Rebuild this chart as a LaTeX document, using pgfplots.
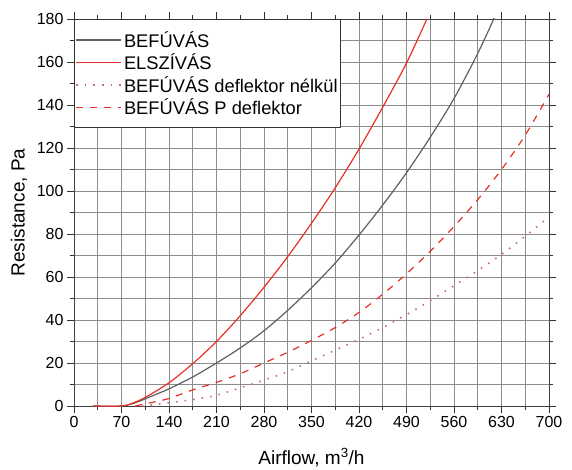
\documentclass[border=0pt]{standalone}
\usepackage{pgfplots}
\pgfplotsset{compat=1.18}
\usepackage{fontspec}
\setmainfont{Liberation Sans}
\definecolor{cred}{RGB}{232,48,40}
\definecolor{cgray}{RGB}{95,95,95}
\definecolor{cdot}{RGB}{200,110,110}
\definecolor{gridc}{RGB}{140,140,140}
\begin{document}
\begin{tikzpicture}
\begin{axis}[
  scale only axis,
  width=475pt, height=387pt,
  xmin=0, xmax=700, ymin=0, ymax=180,
  xtick={0,70,...,700}, ytick={0,20,...,180},
  minor xtick={35,105,...,665}, minor ytick={10,30,...,170},
  grid=both,
  major grid style={gridc, line width=0.8pt},
  minor grid style={gridc, line width=0.8pt},
  axis line style={black!75, line width=0.9pt},
  tick align=outside,
  major tick length=7pt, minor tick length=4pt,
  tick style={black!80, line width=0.8pt},
  /pgf/number format/assume math mode=true,
  ticklabel style={font=\fontsize{16}{16}\selectfont},
  xlabel={Airflow, m\textsuperscript{3}/h},
  ylabel={Resistance, Pa},
  xlabel style={at={(axis description cs:0.5,-0.150)}, anchor=base, font=\fontsize{19}{19}\selectfont},
  ylabel style={at={(axis description cs:-0.116,0.5)}, anchor=center, font=\fontsize{19}{19}\selectfont},
  legend style={at={(0,1)}, anchor=north west, draw=black!80, line width=0.8pt, fill=white,
    font=\fontsize{18.3}{22}\selectfont, inner xsep=1pt, inner ysep=10pt, row sep=1pt},
  legend cell align=left,
  legend image code/.code={\draw[#1] (0pt,0pt) -- (45pt,0pt);},
]
\addplot[cgray, line width=1.2pt, smooth] coordinates {
(28,0) (70,0) (90,1.5) (110,4) (140,8) (175,13.5) (210,20) (245,27) (280,35) (315,44.5)
(350,55) (385,66.5) (420,79.5) (455,93.5) (490,108.5) (525,125) (560,143) (595,164) (620,181)};
\addlegendentry{BEFÚVÁS}
\addplot[cred, line width=1.2pt, smooth] coordinates {
(28,0) (70,0) (85,1.2) (105,4) (140,10.8) (175,19.7) (210,30) (245,42) (280,55.2) (315,69.5)
(350,85) (385,101.5) (420,119.5) (455,139) (490,159.5) (520,180)};
\addlegendentry{ELSZÍVÁS}
\addplot[cdot, line width=1.6pt, dash pattern=on 1.6pt off 7pt, smooth] coordinates {
(100,0) (140,1.5) (175,3) (210,5) (245,8.5) (280,12) (315,16) (350,21) (385,26) (420,31)
(455,36.5) (490,42.5) (525,49) (560,56) (595,63) (630,70.5) (665,79) (700,88)};
\addlegendentry{BEFÚVÁS deflektor nélkül}
\addplot[cred, line width=1.2pt, dash pattern=on 7pt off 7pt, smooth] coordinates {
(90,0) (120,2) (140,3.5) (175,7.5) (210,11) (245,15) (280,20) (315,25) (350,30.5) (385,36.5)
(420,43.5) (455,52) (490,61.5) (525,72) (560,83.5) (595,96) (630,110) (665,126) (700,145)};
\addlegendentry{BEFÚVÁS P deflektor}
\end{axis}
\path ([xshift=-74pt,yshift=-63pt]current axis.south west) rectangle ([xshift=23pt,yshift=19pt]current axis.north east);
\end{tikzpicture}
\end{document}
